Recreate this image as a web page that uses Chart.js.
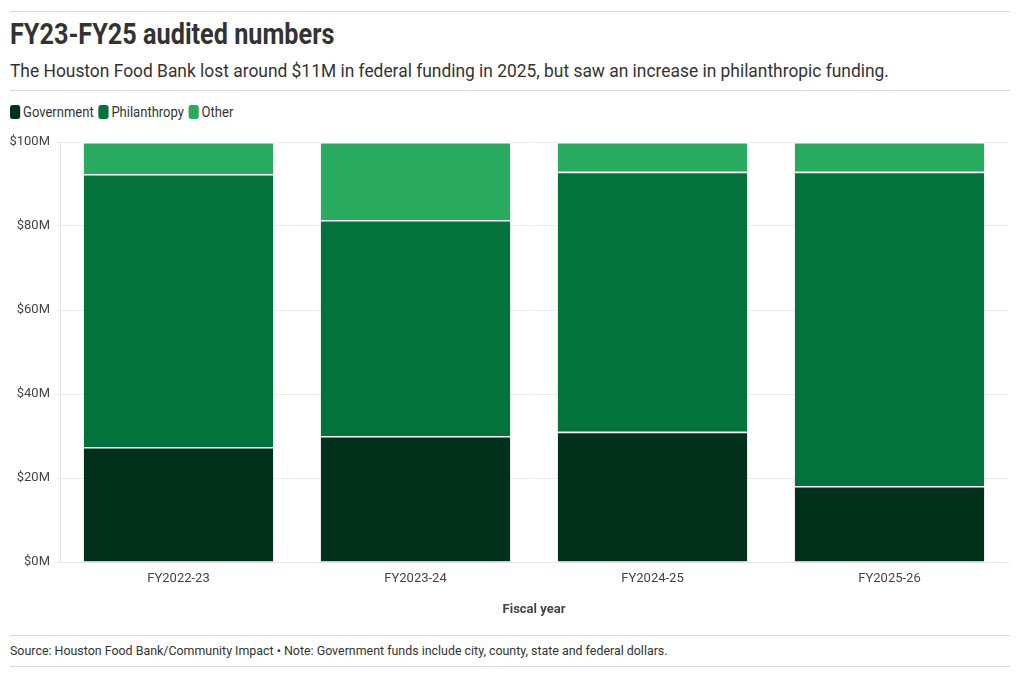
<!DOCTYPE html>
<html lang="en">
<head>
<meta charset="UTF-8">
<title>FY23-FY25 audited numbers</title>
<script src="https://cdn.jsdelivr.net/npm/chart.js"></script>
<style>
body {
  margin: 0;
  background: #ffffff;
  font-family: 'Roboto', sans-serif;
  color: #333333;
}
.wrap { position: relative; width: 1020px; height: 678px; }
.rule { position: absolute; left: 10px; width: 1000px; height: 1px; background: #d9d9d9; }
/* no condensed face installed, so squeeze the text a bit */
.narrow { transform-origin: left top; white-space: nowrap; }
h1 {
  position: absolute; left: 10px; top: 17px; margin: 0;
  font-size: 29px; font-weight: 700; color: #333333;
  transform: scaleX(0.87);
}
.sub { position: absolute; left: 10px; top: 59px; margin: 0; font-size: 19px; color: #333333; transform: scaleX(0.915); }
.legend { position: absolute; left: 10px; top: 104px; font-size: 14px; color: #333333; display: flex; transform: scaleX(0.93); }
.legend span { display: inline-flex; align-items: center; margin-right: 5px; }
.legend i { display: inline-block; width: 11px; height: 14px; border-radius: 3px; margin-right: 3px; }
.source { position: absolute; left: 10px; top: 643px; font-size: 13px; color: #333333; transform: scaleX(0.955); }
.chart-box { position: absolute; left: 0; top: 128px; width: 1020px; height: 492px; }
</style>
</head>
<body>
<div class="wrap">
  <div class="rule" style="top:11px"></div>
  <h1 class="narrow">FY23-FY25 audited numbers</h1>
  <p class="sub narrow">The Houston Food Bank lost around $11M in federal funding in 2025, but saw an increase in philanthropic funding.</p>
  <div class="rule" style="top:90px"></div>
  <div class="legend narrow" id="legend"></div>
  <div class="chart-box"><canvas id="fundingChart"></canvas></div>
  <div class="rule" style="top:635px"></div>
  <div class="source narrow">Source: Houston Food Bank/Community Impact • Note: Government funds include city, county, state and federal dollars.</div>
  <div class="rule" style="top:666px"></div>
</div>

<script>
// values in $M
const years = ['FY2022-23', 'FY2023-24', 'FY2024-25', 'FY2025-26'];
const government = [27.4, 30.0, 31.0, 18.1];
const philanthropy = [65.0, 51.4, 61.9, 74.8];
const other = [7.6, 18.6, 7.1, 7.1];
const yTicks = [0, 20, 40, 60, 80, 100];

const seriesNames = ['Government', 'Philanthropy', 'Other'];
const seriesColors = ['#01311a', '#02733a', '#29ab5f'];
const fontFamily = "'Roboto', sans-serif";

// legend built by hand so it sits like the original
const legend = document.getElementById('legend');
seriesNames.forEach((name, i) => {
  const item = document.createElement('span');
  item.innerHTML = '<i style="background:' + seriesColors[i] + '"></i>' + name;
  legend.appendChild(item);
});

const ctx = document.getElementById('fundingChart').getContext('2d');
new Chart(ctx, {
  type: 'bar',
  data: {
    labels: years,
    datasets: [government, philanthropy, other].map((vals, i) => ({
      label: seriesNames[i],
      data: vals,
      backgroundColor: seriesColors[i],
      borderColor: '#ffffff',
      borderWidth: { top: 1.5, left: 0, right: 0, bottom: 0 },
      borderSkipped: false,
      categoryPercentage: 0.8,
      barPercentage: 1.0
    }))
  },
  options: {
    responsive: true,
    maintainAspectRatio: false,
    animation: false,
    layout: { padding: { top: 14, right: 12, left: 0, bottom: 0 } },
    plugins: {
      legend: { display: false },
      tooltip: { enabled: false }
    },
    scales: {
      x: {
        stacked: true,
        grid: { display: false, drawTicks: true, tickLength: 4 },
        border: { color: '#e6e6e6' },
        ticks: { color: '#444444', font: { family: fontFamily, size: 13 }, padding: 5 },
        title: {
          display: true, text: 'Fiscal year', color: '#444444',
          font: { family: fontFamily, size: 13, weight: 'bold' },
          padding: { top: 8, bottom: 2 }
        },
        afterFit: function(scale) { scale.height = 58; }
      },
      y: {
        stacked: true,
        min: 0,
        max: 100,
        afterBuildTicks: function(scale) { scale.ticks = yTicks.map(v => ({ value: v })); },
        grid: { color: '#ececec', tickLength: 5 },
        border: { color: '#e6e6e6' },
        ticks: {
          color: '#444444',
          font: { family: fontFamily, size: 13 },
          padding: 5,
          callback: v => '$' + v + 'M'
        },
        afterFit: function(scale) { scale.width = 60; }
      }
    }
  }
});
</script>
</body>
</html>
